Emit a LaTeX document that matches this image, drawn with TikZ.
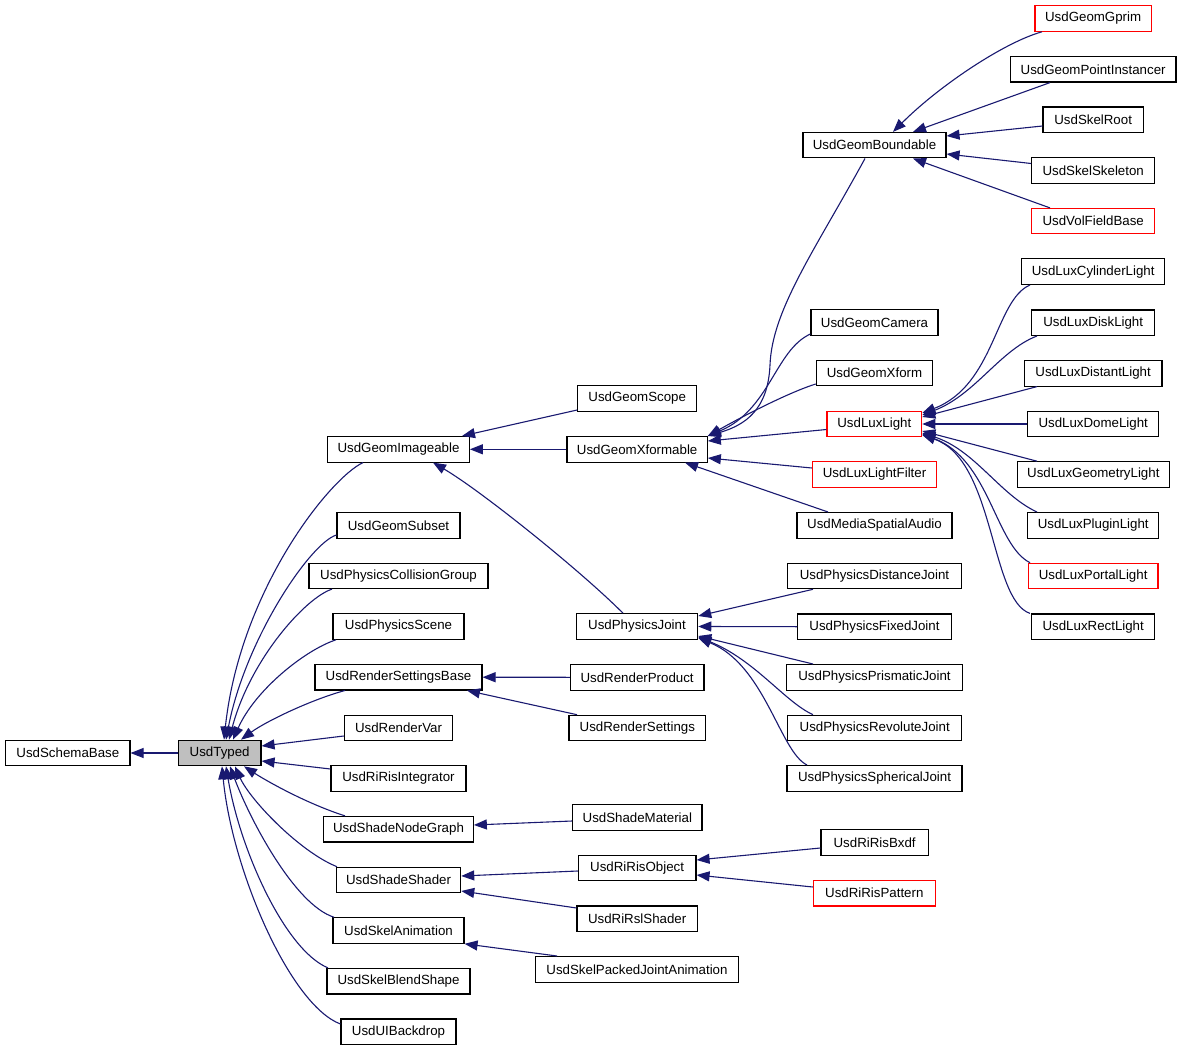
\documentclass[tikz,border=0pt]{standalone}
\usepackage{fontspec}
\setmainfont{Liberation Sans}
\usetikzlibrary{arrows.meta}
\definecolor{edgeblue}{HTML}{191970}
\definecolor{typedgray}{HTML}{BFBFBF}
\tikzset{
  box/.style={draw=black, line width=1.1pt, fill=white, minimum height=25.5pt, inner sep=0pt,
    font=\fontsize{13.3}{15}\selectfont},
  redbox/.style={box, draw=red},
  edge/.style={draw=edgeblue, line width=1.1pt, -{Triangle[length=13pt,width=10pt]}, edgeblue},
}
\begin{document}
\begin{tikzpicture}[x=1pt,y=-1pt]
\useasboundingbox (0,0) rectangle (1181,1051);
% column 1
\node[box, minimum width=124.3pt] (SchemaBase) at (67.85,753) {UsdSchemaBase};
\node[box, fill=typedgray, minimum width=82.7pt] (Typed) at (219.65,753) {UsdTyped};
% column 2
\node[box, minimum width=141.6pt] (GeomImageable) at (398.5,449.3) {UsdGeomImageable};
\node[box, minimum width=123pt] (GeomSubset) at (398.5,525.3) {UsdGeomSubset};
\node[box, minimum width=179pt] (CollisionGroup) at (398.5,575.8) {UsdPhysicsCollisionGroup};
\node[box, minimum width=131pt] (PhysicsScene) at (398.5,626.5) {UsdPhysicsScene};
\node[box, minimum width=167pt] (RenderSettingsBase) at (398.5,677.2) {UsdRenderSettingsBase};
\node[box, minimum width=108.4pt] (RenderVar) at (398.5,727.8) {UsdRenderVar};
\node[box, minimum width=135pt] (RiRisIntegrator) at (398.5,778.5) {UsdRiRisIntegrator};
\node[box, minimum width=149.6pt] (ShadeNodeGraph) at (398.5,829.2) {UsdShadeNodeGraph};
\node[box, minimum width=124.4pt] (ShadeShader) at (398.5,880) {UsdShadeShader};
\node[box, minimum width=131pt] (SkelAnimation) at (398.5,930.5) {UsdSkelAnimation};
\node[box, minimum width=143pt] (SkelBlendShape) at (398.5,981.2) {UsdSkelBlendShape};
\node[box, minimum width=115pt] (UIBackdrop) at (398.5,1031.7) {UsdUIBackdrop};
% column 3
\node[box, minimum width=119pt] (GeomScope) at (637.2,398.5) {UsdGeomScope};
\node[box, minimum width=140.3pt] (GeomXformable) at (637.15,449.3) {UsdGeomXformable};
\node[box, minimum width=121.4pt] (PhysicsJoint) at (637,626.5) {UsdPhysicsJoint};
\node[box, minimum width=133.7pt] (RenderProduct) at (637.15,677.3) {UsdRenderProduct};
\node[box, minimum width=136.7pt] (RenderSettings) at (637.35,728) {UsdRenderSettings};
\node[box, minimum width=129.3pt] (ShadeMaterial) at (637.35,817.3) {UsdShadeMaterial};
\node[box, minimum width=117.7pt] (RiRisObject) at (637.15,868) {UsdRiRisObject};
\node[box, minimum width=120.3pt] (RiRslShader) at (637.15,918.7) {UsdRiRslShader};
\node[box, minimum width=202.6pt] (SkelPackedJointAnimation) at (637,969.3) {UsdSkelPackedJointAnimation};
% column 4
\node[box, minimum width=143pt] (GeomBoundable) at (874.5,145.2) {UsdGeomBoundable};
\node[box, minimum width=127pt] (GeomCamera) at (874.5,322.3) {UsdGeomCamera};
\node[box, minimum width=116.4pt] (GeomXform) at (874.5,373) {UsdGeomXform};
\node[redbox, minimum width=94.7pt] (LuxLight) at (874.35,424) {UsdLuxLight};
\node[redbox, minimum width=124.4pt] (LuxLightFilter) at (874.5,474.5) {UsdLuxLightFilter};
\node[box, minimum width=155pt] (MediaSpatialAudio) at (874.5,525.3) {UsdMediaSpatialAudio};
\node[box, minimum width=173.6pt] (PhysicsDistanceJoint) at (874.5,576) {UsdPhysicsDistanceJoint};
\node[box, minimum width=153.6pt] (PhysicsFixedJoint) at (874.5,626.7) {UsdPhysicsFixedJoint};
\node[box, minimum width=176.4pt] (PhysicsPrismaticJoint) at (874.5,677.3) {UsdPhysicsPrismaticJoint};
\node[box, minimum width=174pt] (PhysicsRevoluteJoint) at (874.7,728) {UsdPhysicsRevoluteJoint};
\node[box, minimum width=175pt] (PhysicsSphericalJoint) at (874.5,778.3) {UsdPhysicsSphericalJoint};
\node[box, minimum width=107.3pt] (RiRisBxdf) at (874.65,842.3) {UsdRiRisBxdf};
\node[redbox, minimum width=122pt] (RiRisPattern) at (874.3,893.2) {UsdRiRisPattern};
% column 5
\node[redbox, minimum width=116.3pt] (GeomGprim) at (1093.15,18.5) {UsdGeomGprim};
\node[box, minimum width=165.7pt] (GeomPointInstancer) at (1093.15,69.3) {UsdGeomPointInstancer};
\node[box, minimum width=100.3pt] (SkelRoot) at (1093.15,119.8) {UsdSkelRoot};
\node[box, minimum width=123pt] (SkelSkeleton) at (1093.2,170.5) {UsdSkelSkeleton};
\node[redbox, minimum width=123pt] (VolFieldBase) at (1093.2,221.2) {UsdVolFieldBase};
\node[box, minimum width=143pt] (LuxCylinderLight) at (1093.2,271.7) {UsdLuxCylinderLight};
\node[box, minimum width=123pt] (LuxDiskLight) at (1093.2,322.7) {UsdLuxDiskLight};
\node[box, minimum width=137.7pt] (LuxDistantLight) at (1093.15,373.3) {UsdLuxDistantLight};
\node[box, minimum width=131pt] (LuxDomeLight) at (1093.2,424) {UsdLuxDomeLight};
\node[box, minimum width=152pt] (LuxGeometryLight) at (1093.3,474.5) {UsdLuxGeometryLight};
\node[box, minimum width=131pt] (LuxPluginLight) at (1093.2,525.3) {UsdLuxPluginLight};
\node[redbox, minimum width=129.7pt] (LuxPortalLight) at (1093.15,576) {UsdLuxPortalLight};
\node[box, minimum width=123pt] (LuxRectLight) at (1093.2,626.7) {UsdLuxRectLight};

% edges
\draw[edge] (Typed.west) -- (SchemaBase.east);
\draw[edge] (GeomImageable.south -| 363,0) .. controls (330,478) and (240,590) .. (Typed.north -| 224,0);
\draw[edge] (GeomSubset.west |- 0,535) .. controls (310,543) and (245,640) .. (Typed.north -| 226,0);
\draw[edge] (CollisionGroup.south -| 332,0) .. controls (305,598) and (250,660) .. (Typed.north -| 229,0);
\draw[edge] (PhysicsScene.south -| 336,0) .. controls (305,650) and (255,690) .. (Typed.north -| 233,0);
\draw[edge] (RenderSettingsBase.south -| 345,0) .. controls (310,700) and (265,722) .. (Typed.north -| 241,0);
\draw[edge] (RenderVar.west |- 0,736) -- (Typed.east |- 0,746);
\draw[edge] (RiRisIntegrator.west |- 0,769) -- (Typed.east |- 0,761);
\draw[edge] (ShadeNodeGraph.north -| 345,0) .. controls (305,803) and (265,780) .. (Typed.south -| 244,0);
\draw[edge] (ShadeShader.north -| 337,0) .. controls (300,852) and (250,800) .. (Typed.south -| 235,0);
\draw[edge] (SkelAnimation.north -| 334,0) .. controls (295,905) and (250,820) .. (Typed.south -| 230,0);
\draw[edge] (SkelBlendShape.north -| 328,0) .. controls (285,950) and (240,850) .. (Typed.south -| 226,0);
\draw[edge] (UIBackdrop.west |- 0,1024) .. controls (290,1005) and (232,870) .. (Typed.south -| 222,0);

\draw[edge] (GeomScope.west |- 0,410) -- (GeomImageable.north -| 462,0);
\draw[edge] (GeomXformable.west) -- (GeomImageable.east);
\draw[edge] (PhysicsJoint.north -| 623,0) .. controls (580,570) and (480,490) .. (GeomImageable.south -| 433,0);

\draw[edge] (GeomBoundable.south -| 865,0) .. controls (815,250) and (772,310) .. (770,365) .. controls (768,410) and (745,425) .. (GeomXformable.north east);
\draw[edge] (GeomCamera.west |- 0,334) .. controls (775,350) and (770,410) .. (GeomXformable.north east);
\draw[edge] (GeomXform.west |- 0,384) .. controls (790,392) and (745,415) .. (GeomXformable.north east);
\draw[edge] (LuxLight.west |- 0,429.5) -- (GeomXformable.east |- 0,441);
\draw[edge] (LuxLightFilter.west |- 0,468) -- (GeomXformable.east |- 0,458);
\draw[edge] (MediaSpatialAudio.north -| 828,0) -- (GeomXformable.south -| 685,0);

\draw[edge] (GeomGprim.south -| 1042,0) .. controls (1005,42) and (940,85) .. (GeomBoundable.north -| 893,0);
\draw[edge] (GeomPointInstancer.south -| 1050,0) -- (GeomBoundable.north -| 913,0);
\draw[edge] (SkelRoot.west |- 0,126) -- (GeomBoundable.east |- 0,136);
\draw[edge] (SkelSkeleton.west |- 0,163.5) -- (GeomBoundable.east |- 0,154);
\draw[edge] (VolFieldBase.north -| 1050,0) -- (GeomBoundable.south -| 913,0);

\draw[edge] (LuxCylinderLight.south -| 1030,0) .. controls (995,300) and (995,385) .. (LuxLight.east |- 0,413);
\draw[edge] (LuxDiskLight.south -| 1037,0) .. controls (1000,350) and (975,395) .. (LuxLight.east |- 0,415);
\draw[edge] (LuxDistantLight.south -| 1037,0) -- (LuxLight.east |- 0,417);
\draw[edge] (LuxDomeLight.west) -- (LuxLight.east);
\draw[edge] (LuxGeometryLight.north -| 1037,0) -- (LuxLight.east |- 0,431);
\draw[edge] (LuxPluginLight.north -| 1037,0) .. controls (1000,495) and (975,450) .. (LuxLight.east |- 0,433);
\draw[edge] (LuxPortalLight.north -| 1030,0) .. controls (995,545) and (990,460) .. (LuxLight.east |- 0,434);
\draw[edge] (LuxRectLight.north -| 1030,0) .. controls (990,600) and (995,460) .. (LuxLight.east |- 0,435);

\draw[edge] (PhysicsDistanceJoint.south -| 813,0) -- (PhysicsJoint.east |- 0,616);
\draw[edge] (PhysicsFixedJoint.west) -- (PhysicsJoint.east);
\draw[edge] (PhysicsPrismaticJoint.north -| 813,0) -- (PhysicsJoint.east |- 0,636);
\draw[edge] (PhysicsRevoluteJoint.north -| 813,0) .. controls (785,702) and (755,660) .. (PhysicsJoint.east |- 0,637);
\draw[edge] (PhysicsSphericalJoint.north -| 807,0) .. controls (780,752) and (765,665) .. (PhysicsJoint.east |- 0,638);

\draw[edge] (RenderProduct.west) -- (RenderSettingsBase.east);
\draw[edge] (RenderSettings.north -| 577,0) -- (RenderSettingsBase.south -| 467,0);
\draw[edge] (ShadeMaterial.west |- 0,821) -- (ShadeNodeGraph.east |- 0,825);
\draw[edge] (RiRisObject.west |- 0,871) -- (ShadeShader.east |- 0,876);
\draw[edge] (RiRslShader.west |- 0,908) -- (ShadeShader.east |- 0,891);
\draw[edge] (RiRisBxdf.west |- 0,848) -- (RiRisObject.east |- 0,860);
\draw[edge] (RiRisPattern.west |- 0,887) -- (RiRisObject.east |- 0,875);
\draw[edge] (SkelPackedJointAnimation.north -| 557,0) -- (SkelAnimation.south east);
\end{tikzpicture}
\end{document}
